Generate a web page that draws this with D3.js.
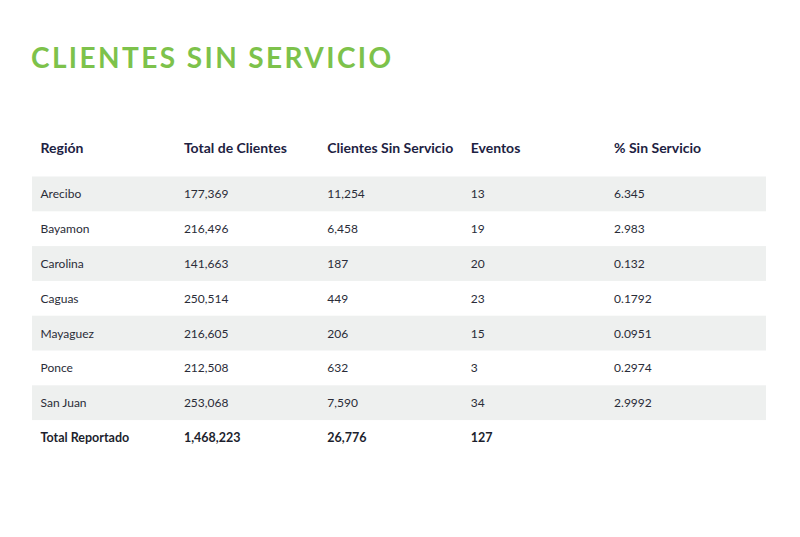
<!DOCTYPE html>
<html><head><meta charset="utf-8">
<script src="https://cdn.jsdelivr.net/npm/d3@7"></script>
<style>html,body{margin:0;padding:0;background:#fff;}</style>
</head><body>
<svg id="c" width="800" height="537"></svg>
<script>
const title = "CLIENTES SIN SERVICIO";
const headers = ["Región", "Total de Clientes", "Clientes Sin Servicio", "Eventos", "% Sin Servicio"];
const regions = ["Arecibo", "Bayamon", "Carolina", "Caguas", "Mayaguez", "Ponce", "San Juan"];
const totalClientes = ["177,369", "216,496", "141,663", "250,514", "216,605", "212,508", "253,068"];
const sinServicio = ["11,254", "6,458", "187", "449", "206", "632", "7,590"];
const eventos = ["13", "19", "20", "23", "15", "3", "34"];
const pctSinServicio = ["6.345", "2.983", "0.132", "0.1792", "0.0951", "0.2974", "2.9992"];
const totalRow = ["Total Reportado", "1,468,223", "26,776", "127", ""];

const svg = d3.select("#c");
svg.append("text").attr("x", 31).attr("y", 68)
  .attr("font-family", "Lato").attr("font-weight", 700).attr("font-size", 28)
  .attr("letter-spacing", 2.4).attr("fill", "#7dc24b").text(title);

const rows = regions.map((r, i) => [r, totalClientes[i], sinServicio[i], eventos[i], pctSinServicio[i]]);
const allRows = rows.concat([totalRow]);

const x = d3.scaleBand().domain(d3.range(headers.length)).range([40.5, 757.5]).paddingInner(0).paddingOuter(0).align(0);
const y = d3.scaleBand().domain(d3.range(allRows.length)).range([176.5, 176.5 + 34.8 * allRows.length]);

svg.selectAll("rect.band").data(rows.map((r, i) => i).filter(i => i % 2 === 0))
  .join("rect").attr("class", "band")
  .attr("x", 32).attr("width", 734).attr("y", d => y(d)).attr("height", y.bandwidth())
  .attr("fill", "#eef0ef");

svg.selectAll("text.h").data(headers).join("text").attr("class", "h")
  .attr("x", (d, i) => x(i)).attr("y", 153)
  .attr("font-family", "Lato").attr("font-weight", 700).attr("font-size", 14)
  .attr("fill", "#1d2242").text(d => d);

allRows.forEach((row, ri) => {
  const bold = ri === allRows.length - 1;
  svg.append("g").selectAll("text").data(row).join("text")
    .attr("x", (d, i) => x(i)).attr("y", y(ri) + y.bandwidth() / 2 + 4.5)
    .attr("font-family", "Lato").attr("font-weight", bold ? 700 : 400).attr("font-size", bold ? 12.5 : 12)
    .attr("fill", bold ? "#1d1f2e" : "#2a2c38").text(d => d);
});
</script>
</body></html>
